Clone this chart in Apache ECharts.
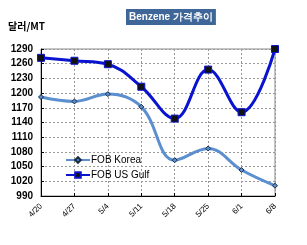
<!DOCTYPE html>
<html><head><meta charset="utf-8">
<script src="https://cdn.jsdelivr.net/npm/echarts@6/dist/echarts.min.js"></script>
<style>html,body{margin:0;padding:0;background:#fff}#c{width:307px;height:245px}</style>
</head><body><div id="c"></div>
<script>
const categories = ['4/20','4/27','5/4','5/11','5/18','5/25','6/1','6/8'];
const korea = [1192, 1183, 1198, 1172, 1063, 1087, 1043, 1011];
const usGulf = [1272, 1266, 1259, 1213, 1148, 1248, 1161, 1290];
const yTicks = [990,1020,1050,1080,1110,1140,1170,1200,1230,1260,1290];

const chart = echarts.init(document.getElementById('c'), null, {renderer:'canvas'});
chart.setOption({
  animation:false,
  backgroundColor:'#fff',
  title:{
    text:'Benzene 가격추이', left:126, top:9,
    backgroundColor:'#3f6698', padding:[3,3,3,3],
    textStyle:{color:'#fff', fontSize:10, fontWeight:'bold', fontFamily:'Liberation Sans, Arial'}
  },
  graphic:[{type:'text', left:8, top:21, style:{text:'달러/MT', fontSize:10, fontWeight:'bold', fill:'#000', fontFamily:'Noto Sans CJK KR'}}],
  legend:{
    orient:'vertical', left:60, top:150, itemGap:5, itemWidth:24, itemHeight:7,
    textStyle:{fontSize:10, color:'#000', fontFamily:'Liberation Sans, Arial', padding:[0,0,0,-4]},
    data:['FOB Korea','FOB US Gulf']
  },
  grid:{left:41, right:32, top:49, bottom:49, show:true, borderColor:'#888', borderWidth:1},
  xAxis:{
    type:'category', data:categories, boundaryGap:false,
    axisLine:{lineStyle:{color:'#000', width:1}},
    axisTick:{show:true, inside:true, length:3, lineStyle:{color:'#000'}},
    axisLabel:{rotate:45, fontSize:8, color:'#000', margin:9, fontFamily:'Liberation Sans, Arial'},
    splitLine:{show:true, lineStyle:{color:'#999', type:[2,2], width:1}}
  },
  yAxis:{
    type:'value', min:990, max:1290, interval:30,
    axisLine:{show:true, lineStyle:{color:'#000', width:1}},
    axisTick:{show:true, inside:true, length:3, lineStyle:{color:'#000'}},
    axisLabel:{fontSize:10, fontWeight:'bold', color:'#000', margin:8, fontFamily:'Liberation Sans, Arial',
      formatter:v=>yTicks.includes(v)?String(v):''},
    splitLine:{show:true, lineStyle:{color:'#999', type:[2,2], width:1}}
  },
  series:[
    {name:'FOB Korea', type:'line', data:korea, smooth:0.4,
      lineStyle:{color:'#5b8fd0', width:3}, itemStyle:{color:'#5b8fd0', borderColor:'#1a2a40', borderWidth:1},
      symbol:'diamond', symbolSize:5},
    {name:'FOB US Gulf', type:'line', data:usGulf, smooth:0.4,
      lineStyle:{color:'#0a14d0', width:3}, itemStyle:{color:'#111', borderColor:'#0a14d0', borderWidth:1},
      symbol:'rect', symbolSize:7}
  ]
});
</script></body></html>
